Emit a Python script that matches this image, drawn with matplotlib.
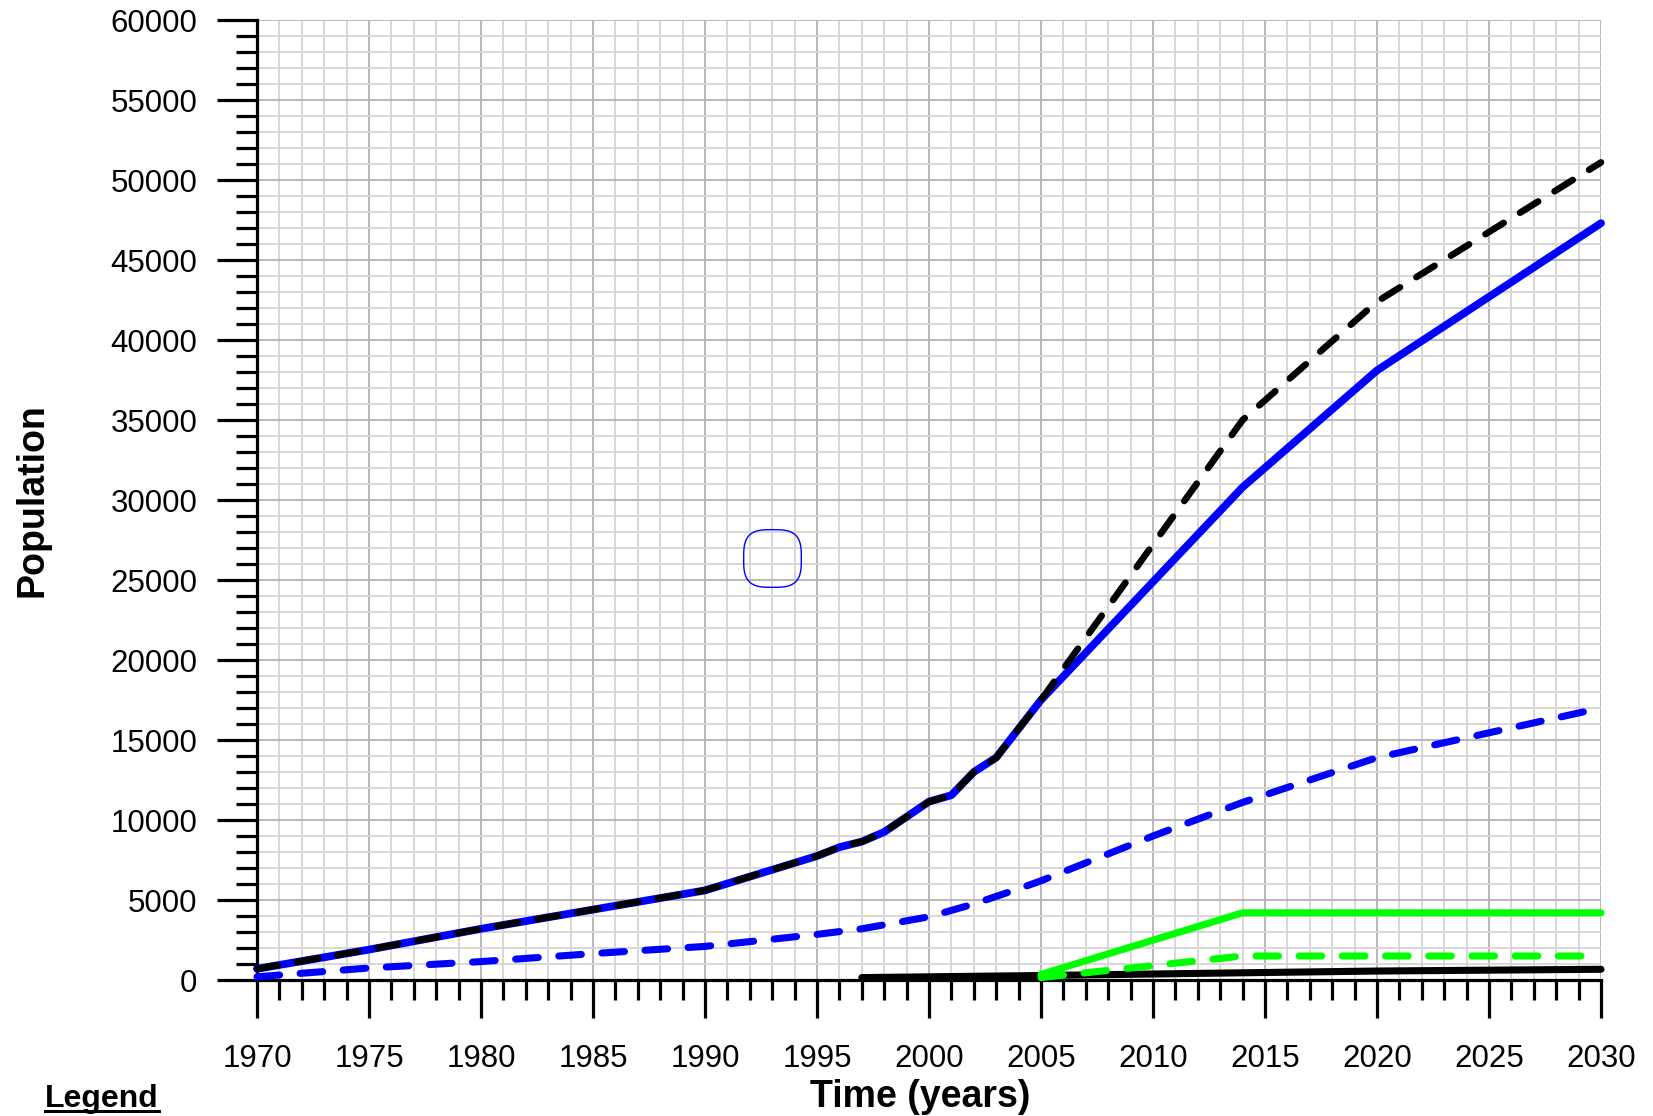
import numpy as np
import matplotlib
matplotlib.use("Agg")
import matplotlib.pyplot as plt
from matplotlib.path import Path
from matplotlib.lines import Line2D
from matplotlib.ticker import MultipleLocator

plt.rcParams['font.family'] = ['Liberation Sans', 'DejaVu Sans']

# Total population (solid blue)
total_years = [1970, 1975, 1980, 1985, 1990, 1995, 1996, 1997, 1998, 1999, 2000,
               2001, 2002, 2003, 2004, 2005, 2014, 2020, 2030]
total_pop = [700, 1900, 3200, 4400, 5600, 7750, 8300, 8650, 9250, 10200, 11150,
             11550, 13000, 13900, 15700, 17500, 30800, 38100, 47300]

# Alternative projection (dashed black), identical history up to 2005
alt_years = [1970, 1975, 1980, 1985, 1990, 1995, 1996, 1997, 1998, 1999, 2000,
             2001, 2002, 2003, 2004, 2005, 2014, 2020, 2030]
alt_pop = [700, 1900, 3200, 4400, 5600, 7750, 8300, 8650, 9250, 10200, 11150,
           11550, 13000, 13900, 15700, 17500, 35000, 42400, 51100]

# Secondary population (dashed blue)
sec_years = [1970, 1975, 1980, 1985, 1990, 1995, 1997, 2000, 2002, 2004, 2005,
             2010, 2014, 2020, 2030]
sec_pop = [200, 750, 1150, 1650, 2100, 2850, 3200, 3950, 4750, 5700, 6200,
           9000, 11100, 13900, 17000]

# New development (solid and dashed green)
green_years = [2005, 2014, 2030]
green_pop = [350, 4200, 4200]
green_dash_years = [2005, 2014, 2030]
green_dash_pop = [150, 1500, 1500]

# Small community (solid black)
small_years = [1997, 2005, 2014, 2020, 2030]
small_pop = [150, 280, 450, 560, 670]

# Highlighted point
mark_year = [1993]
mark_pop = [26400]

x_ticks = list(range(1970, 2031, 5))
y_ticks = list(range(0, 60001, 5000))

fig = plt.figure(figsize=(16.53, 11.16), dpi=100)
ax = fig.add_axes([257 / 1653, 136 / 1116, 1344 / 1653, 960 / 1116])

ax.set_xlim(1970, 2030)
ax.set_ylim(0, 60000)
ax.xaxis.set_major_locator(MultipleLocator(5))
ax.xaxis.set_minor_locator(MultipleLocator(1))
ax.yaxis.set_major_locator(MultipleLocator(5000))
ax.yaxis.set_minor_locator(MultipleLocator(1000))
ax.set_xticks(x_ticks)
ax.set_yticks(y_ticks)
ax.set_xticklabels([str(v) for v in x_ticks])
ax.set_yticklabels([str(v) for v in y_ticks])

ax.grid(which='minor', color='#d4d4d4', linewidth=1.3, zorder=0)
ax.grid(which='major', color='#b2b2b2', linewidth=1.3, zorder=0)
ax.set_axisbelow(True)

for side in ('top', 'right'):
    ax.spines[side].set_visible(False)
for side in ('left', 'bottom'):
    ax.spines[side].set_linewidth(2.3)
    ax.spines[side].set_capstyle('projecting')

ax.tick_params(axis='y', which='major', direction='out', length=29, width=2.3,
               labelsize=22.5, pad=14)
ax.tick_params(axis='y', which='minor', direction='out', length=15, width=2.3)
ax.tick_params(axis='x', which='major', direction='out', length=27, width=2.3,
               labelsize=22.5, pad=19)
ax.tick_params(axis='x', which='minor', direction='out', length=14.5, width=2.3)

lw = 5.1
dash = (3.2, 2.9)
ax.plot(total_years, total_pop, color='#0000ff', lw=lw + 0.5,
        solid_capstyle='round', solid_joinstyle='round', clip_on=False, zorder=3)
ax.plot(sec_years, sec_pop, color='#0000ff', lw=lw, dashes=dash,
        dash_capstyle='round', dash_joinstyle='round', clip_on=False, zorder=3)
ax.plot(alt_years, alt_pop, color='black', lw=lw - 0.3, dashes=dash,
        dash_capstyle='round', dash_joinstyle='round', clip_on=False, zorder=4)
ax.plot(small_years, small_pop, color='black', lw=lw,
        solid_capstyle='round', clip_on=False, zorder=4)
ax.plot(green_dash_years, green_dash_pop, color='#00ff00', lw=lw, dashes=dash,
        dash_capstyle='round', clip_on=False, zorder=5)
ax.plot(green_years, green_pop, color='#00ff00', lw=lw,
        solid_capstyle='round', clip_on=False, zorder=5)

# Rounded-square marker (superellipse outline)
t = np.linspace(0, 2 * np.pi, 200)
n = 3.2
sx = np.sign(np.cos(t)) * np.abs(np.cos(t)) ** (2 / n)
sy = np.sign(np.sin(t)) * np.abs(np.sin(t)) ** (2 / n)
rounded = Path(np.column_stack([sx, sy]), closed=True)
ax.plot(mark_year, mark_pop, linestyle='none', marker=rounded, markersize=41.5,
        markerfacecolor='none', markeredgecolor='#0000ff', markeredgewidth=1.0,
        zorder=6)

ax.set_xlabel('Time (years)', fontsize=27, fontweight='bold', va='center')
ax.xaxis.set_label_coords((920 - 257) / 1344, (980 - 1097) / 960)
ax.set_ylabel('Population', fontsize=27, fontweight='bold', va='center')
ax.yaxis.set_label_coords((32 - 257) / 1344, 0.5)

# Underlined legend heading
leg = fig.text(45 / 1653, 1 - 1107 / 1116, 'Legend', fontsize=23,
               fontweight='bold', ha='left', va='baseline')
fig.canvas.draw()
bb = leg.get_window_extent()
y_line = 1 - 1111 / 1116
fig.add_artist(Line2D([bb.x0 / 1653, bb.x1 / 1653], [y_line, y_line],
                      color='black', lw=2.2, transform=fig.transFigure))

fig.savefig('out.png', dpi=100)
